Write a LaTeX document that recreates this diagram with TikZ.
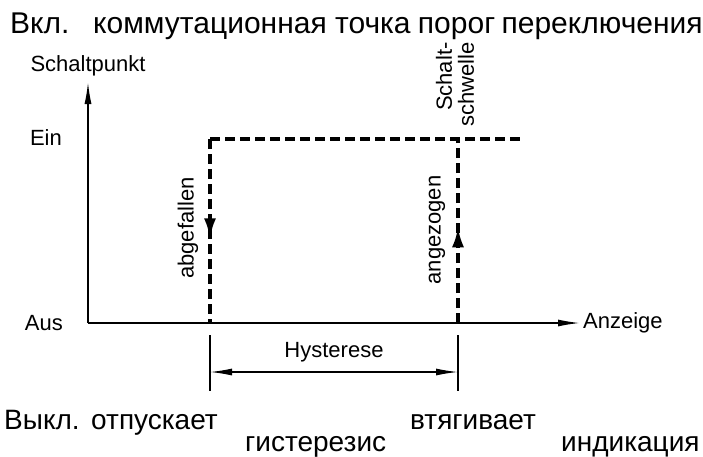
\documentclass[tikz,border=0pt]{standalone}
\usepackage{fontspec}
\setmainfont{Liberation Sans}
\usetikzlibrary{arrows.meta,decorations.markings,positioning,calc}

\begin{document}
\begin{tikzpicture}
            [
            x=1pt, y=-1pt,
            de/.style={font=\fontsize{22}{22}\selectfont, inner sep=0pt},
            ru/.style={font=\fontsize{28}{30}\selectfont, inner sep=0pt, anchor=base west},
            rutop/.style={ru, font=\fontsize{30}{31}\selectfont},
            axis/.style={line width=1.5pt, -{Latex[length=22pt,width=7pt]}},
            switchline/.style={line width=3.2pt, dash pattern=on 10pt off 5pt},
            midarrow/.style={postaction={decorate}, decoration={markings,
                mark=at position #1 with {\arrow{Latex[length=20pt,width=12pt]}}}},
            dimline/.style={line width=1.3pt,
                {Latex[length=22pt,width=7pt]}-{Latex[length=22pt,width=7pt]}}
            ]
            \useasboundingbox (0,0) rectangle (703,456);

            % axes
            \coordinate (o) at (88,323);
            \coordinate (ytop) at (88,82);
            \coordinate (xend) at (580,323);
            \draw [axis] (o) -- (ytop);
            \draw [axis] (o) -- (xend);

            % hysteresis loop
            \coordinate (off) at (210,323);
            \coordinate (offtop) at (210,139);
            \coordinate (on) at (458,323);
            \coordinate (ontop) at (458,139);
            \coordinate (ein end) at (522,139);
            \draw [switchline, midarrow=0.54] (offtop) -- (off);
            \draw [switchline] (offtop) -- (ein end);
            \draw [switchline, midarrow=0.52] (on) -- (ontop);

            % hysteresis dimension
            \coordinate (t1a) at (210,335);
            \coordinate (t1b) at (210,391);
            \coordinate (t2a) at (458,335);
            \coordinate (t2b) at (458,391);
            \coordinate (h1) at (210,372);
            \coordinate (h2) at (458,372);
            \draw [line width=1.3pt] (t1a) -- (t1b);
            \draw [line width=1.3pt] (t2a) -- (t2b);
            \draw [dimline] (h1) -- (h2);

            % German labels
            \node (schaltpunkt) [de] at (88,66) {Schaltpunkt};
            \node (ein) [de, anchor=east] at (62,138) {Ein};
            \node (aus) [de, anchor=east] at (63,323) {Aus};
            \node (anzeige) [de, right=3pt of xend] {Anzeige};
            \node (abgefallen) [de, rotate=90] at (188,228) {abgefallen};
            \node (angezogen) [de, rotate=90] at (437,230) {angezogen};
            \node (schwelle) [de, rotate=90, align=right, anchor=west]
                at (455,127) {Schalt-\\schwelle};
            \node (hysterese) [de] at (334,352) {Hysterese};

            % Russian labels
            \node (vkl) [rutop] at (10,33) {Вкл.};
            \node (tochka) [rutop] at (93,33) {коммутационная точка};
            \node (porog) [rutop] at ($(tochka.base east)+(7,0)$) {порог};
            \node (pereklyuch) [rutop] at ($(porog.base east)+(6,0)$) {переключения};
            \node (vykl) [ru] at (4,429) {Выкл.};
            \node (otpuskaet) [ru] at (91,429) {отпускает};
            \node (vtyagivaet) [ru] at (410,429) {втягивает};
            \node (gisterezis) [ru] at (245,451) {гистерезис};
            \node (indikaciya) [ru] at (561,451) {индикация};
        \end{tikzpicture}
\end{document}
